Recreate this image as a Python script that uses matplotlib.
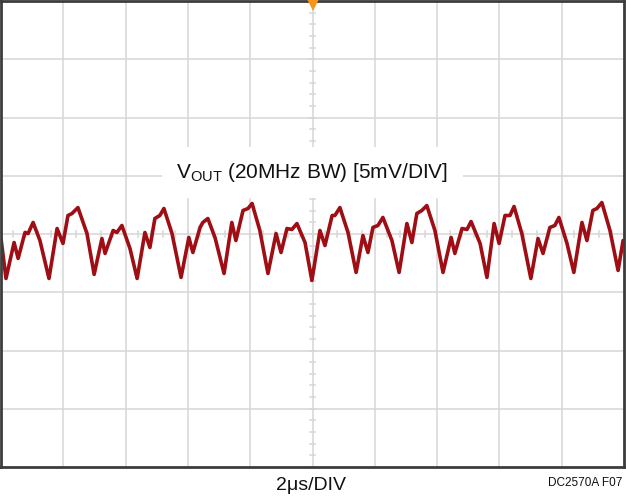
#!/usr/bin/env python3
"""
Scope capture: output ripple, 20MHz BW, 5mV/DIV, 2us/DIV
"""

import numpy as np
import matplotlib
matplotlib.use("Agg")
import matplotlib.pyplot as plt

# trace vertices (time in us, voltage in mV)
t_us = [0.00, 0.16, 0.42, 0.55, 0.77, 0.87, 1.03, 1.25, 1.54,
        1.80, 1.99, 2.15, 2.28, 2.47, 2.76, 2.99,
        3.24, 3.34, 3.60, 3.72, 3.88, 4.14, 4.37,
        4.62, 4.78, 4.94, 5.10, 5.23, 5.49, 5.78,
        6.03, 6.16, 6.39, 6.48, 6.64, 6.87, 7.16,
        7.41, 7.54, 7.77, 7.93, 8.06, 8.31, 8.57,
        8.83, 8.99, 9.18, 9.34, 9.50, 9.76, 9.98,
        10.24, 10.40, 10.63, 10.72, 10.88, 11.14, 11.40,
        11.62, 11.78, 11.94, 12.10, 12.26, 12.55, 12.78,
        13.03, 13.19, 13.35, 13.51, 13.67, 13.93, 14.19,
        14.45, 14.57, 14.80, 14.96, 15.09, 15.38, 15.60,
        15.83, 15.99, 16.18, 16.34, 16.47, 16.72, 17.01,
        17.24, 17.40, 17.62, 17.78, 17.91, 18.17, 18.39,
        18.65, 18.81, 19.00, 19.13, 19.29, 19.55, 19.81,
        19.97]

v_mv = [-0.39, -3.82, -0.73, -2.10, 0.13, 0.04, 0.99, -0.56, -3.82,
        0.47, -0.81, 1.59, 1.76, 2.27, 0.04, -3.47,
        -0.39, -1.67, 0.30, 0.13, 0.73, -1.24, -3.82,
        0.13, -1.16, 1.33, 1.59, 2.19, 0.04, -3.73,
        -0.30, -1.59, 0.56, 0.99, 1.33, -0.30, -3.39,
        0.99, -0.56, 2.02, 2.19, 2.62, 0.30, -3.39,
        0.04, -1.59, 0.47, 0.39, 0.90, -0.73, -3.99,
        0.30, -0.99, 1.59, 1.59, 2.27, 0.13, -3.30,
        -0.13, -1.59, 0.56, 0.73, 1.42, -0.56, -3.30,
        0.90, -0.73, 1.76, 2.02, 2.44, 0.30, -3.30,
        -0.30, -1.67, 0.47, 0.39, 1.07, -0.81, -3.73,
        0.90, -0.81, 1.59, 1.59, 2.36, 0.04, -3.82,
        -0.39, -1.67, 0.56, 0.73, 1.42, -0.81, -3.30,
        0.99, -0.56, 2.02, 2.19, 2.70, 0.30, -3.13,
        -0.56]

label_text = r"$\mathregular{V_{OUT}}$ (20MHz BW) [5mV/DIV]"
time_div = "2\u03bcs/DIV"
fig_id = "DC2570A F07"

T_DIV, V_DIV = 2.0, 5.0
N_X, N_Y = 10, 8

plt.rcParams["font.family"] = ["Liberation Sans", "DejaVu Sans"]
plt.rcParams["mathtext.fontset"] = "custom"
plt.rcParams["mathtext.rm"] = "Liberation Sans"
plt.rcParams["mathtext.it"] = "Liberation Sans"

fig = plt.figure(figsize=(6.26, 5.0), dpi=100)
ax = fig.add_axes([1 / 626, 33 / 500, 623 / 626, 466 / 500])

xmax = T_DIV * N_X
ymax = V_DIV * N_Y / 2
ax.set_xlim(0, xmax)
ax.set_ylim(-ymax, ymax)

# graticule
grid_c = "#d6d6d6"
for i in range(1, N_X):
    ax.axvline(i * T_DIV, color=grid_c, lw=1.1, zorder=1)
for j in range(1, N_Y):
    ax.axhline(-ymax + j * V_DIV, color=grid_c, lw=1.1, zorder=1)

# minor ticks on the centre lines
xc, yc = xmax / 2, 0.0
hx = 0.07
hy = 0.3
for y in np.arange(-ymax, ymax + 0.01, V_DIV / 5):
    ax.plot([xc - hx, xc + hx], [y, y], color=grid_c, lw=1.1, zorder=1)
for x in np.arange(0, xmax + 0.01, T_DIV / 5):
    ax.plot([x, x], [yc - hy, yc + hy], color=grid_c, lw=1.1, zorder=1)

ax.set_xticks([])
ax.set_yticks([])
for s in ax.spines.values():
    s.set_color("#3c3c3c")
    s.set_linewidth(2.0)
    s.set_zorder(5)

# trace
ax.plot(t_us, v_mv, color="#9e0e14", lw=2.6, zorder=3,
        solid_joinstyle="round", solid_capstyle="round")

# trigger marker
ax.plot(xc, ymax - 0.35, marker="v", color="#f7941d", markersize=8,
        markeredgewidth=0, clip_on=False, zorder=6)

ax.text(xc, 5.3, label_text, ha="center", va="center", fontsize=15,
        color="#111111", zorder=4,
        bbox=dict(facecolor="white", edgecolor="none", pad=10))

fig.text(311 / 626, 1 - 485 / 500, time_div, ha="center", va="center",
         fontsize=14, color="#111111")
fig.text(622 / 626, 1 - 483 / 500, fig_id, ha="right", va="center",
         fontsize=8.5, color="#111111")

fig.savefig("out.png", dpi=100)
